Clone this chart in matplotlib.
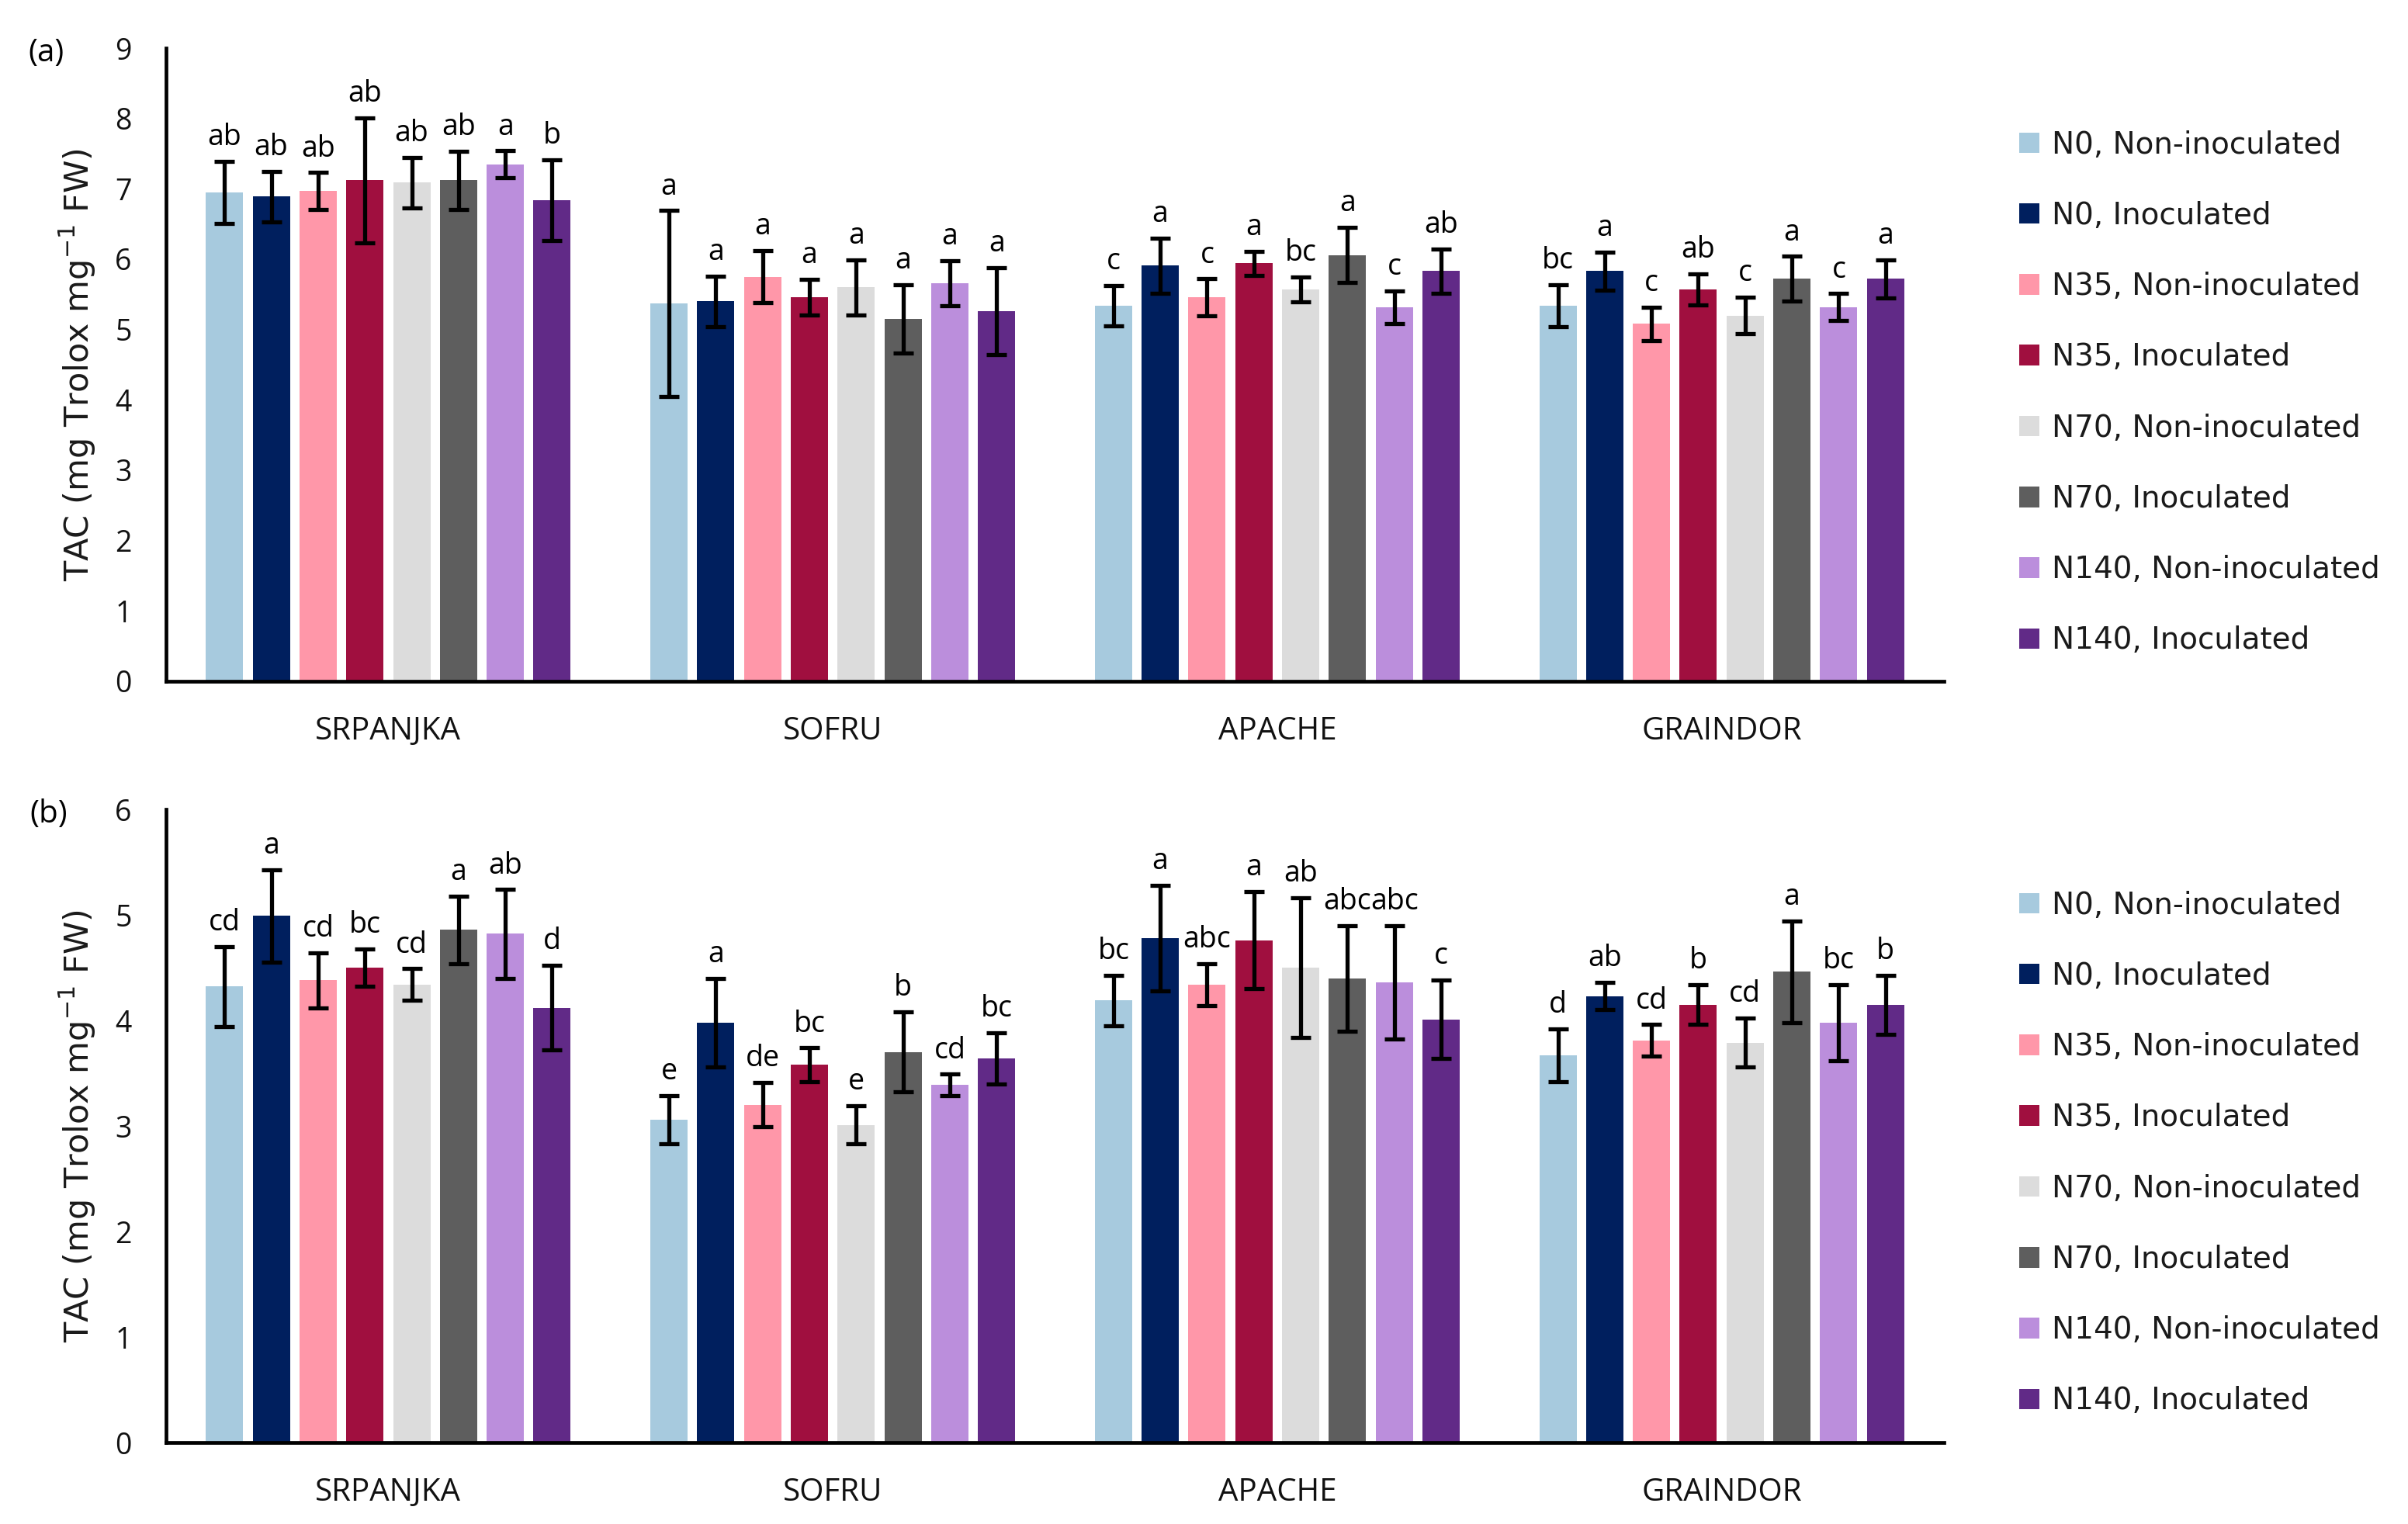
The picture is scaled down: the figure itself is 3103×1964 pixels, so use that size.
#!/usr/bin/env python3
"""Grouped bar chart of TAC by cultivar and N / inoculation treatment."""

import matplotlib

matplotlib.use("Agg")
import matplotlib.pyplot as plt
from matplotlib.patches import Patch
import numpy as np


CULTIVARS = ["SRPANJKA", "SOFRU", "APACHE", "GRAINDOR"]
TREATMENTS = [
    "N0, Non-inoculated",
    "N0, Inoculated",
    "N35, Non-inoculated",
    "N35, Inoculated",
    "N70, Non-inoculated",
    "N70, Inoculated",
    "N140, Non-inoculated",
    "N140, Inoculated",
]
COLORS = [
    "#A7CADE",
    "#001F5E",
    "#FF97A9",
    "#A00F3F",
    "#DCDCDC",
    "#5E5E5E",
    "#BB8EDC",
    "#612A87",
]

# panel (a): one row per cultivar, one value per treatment
TAC_A = [
    [6.95, 6.89, 6.97, 7.12, 7.09, 7.12, 7.35, 6.84],
    [5.37, 5.40, 5.75, 5.46, 5.60, 5.15, 5.66, 5.26],
    [5.34, 5.91, 5.46, 5.94, 5.57, 6.06, 5.32, 5.83],
    [5.34, 5.83, 5.08, 5.57, 5.20, 5.72, 5.32, 5.72],
]
ERR_A = [
    [0.44, 0.36, 0.26, 0.89, 0.36, 0.41, 0.19, 0.57],
    [1.32, 0.36, 0.37, 0.25, 0.39, 0.49, 0.32, 0.62],
    [0.29, 0.39, 0.26, 0.17, 0.18, 0.39, 0.23, 0.31],
    [0.30, 0.27, 0.24, 0.22, 0.26, 0.32, 0.19, 0.27],
]
LETTERS_A = [
    ["ab", "ab", "ab", "ab", "ab", "ab", "a", "b"],
    ["a", "a", "a", "a", "a", "a", "a", "a"],
    ["c", "a", "c", "a", "bc", "a", "c", "ab"],
    ["bc", "a", "c", "ab", "c", "a", "c", "a"],
]

# panel (b)
TAC_B = [
    [4.32, 4.99, 4.38, 4.50, 4.34, 4.86, 4.82, 4.12],
    [3.06, 3.98, 3.20, 3.58, 3.01, 3.70, 3.39, 3.64],
    [4.19, 4.78, 4.34, 4.76, 4.50, 4.40, 4.36, 4.01],
    [3.67, 4.23, 3.81, 4.15, 3.79, 4.46, 3.98, 4.15],
]
ERR_B = [
    [0.38, 0.44, 0.26, 0.18, 0.15, 0.32, 0.42, 0.40],
    [0.23, 0.42, 0.21, 0.16, 0.18, 0.38, 0.10, 0.24],
    [0.24, 0.50, 0.20, 0.46, 0.66, 0.50, 0.54, 0.37],
    [0.25, 0.13, 0.15, 0.19, 0.23, 0.48, 0.36, 0.28],
]
LETTERS_B = [
    ["cd", "a", "cd", "bc", "cd", "a", "ab", "d"],
    ["e", "a", "de", "bc", "e", "b", "cd", "bc"],
    ["bc", "a", "abc", "a", "ab", "abc", "abc", "c"],
    ["d", "ab", "cd", "b", "cd", "a", "bc", "b"],
]

W, H = 3103, 1964
SHORT_FONT = ["Open Sans", "DejaVu Sans"]
LONG_FONT = ["DejaVu Sans"]
YLABEL = r"TAC (mg Trolox mg$^{-1}$ FW)"


def draw_panel(ax, means, errs, letters, ymax):
    means = np.asarray(means)
    errs = np.asarray(errs)
    x = np.arange(len(CULTIVARS))
    slot = 0.1053
    width = 0.0838
    for i, color in enumerate(COLORS):
        xs = x + (i - 3.5) * slot
        ax.bar(xs, means[:, i], width=width, color=color, zorder=2)
        ax.errorbar(
            xs, means[:, i], yerr=errs[:, i], fmt="none", ecolor="black",
            elinewidth=3.8, capsize=9.2, capthick=3.8, zorder=3,
        )
        for xv, top, label in zip(xs, means[:, i] + errs[:, i], [row[i] for row in letters]):
            ax.annotate(
                label, (xv, top), xytext=(0, 15), textcoords="offset points",
                ha="center", va="baseline", fontsize=27, family=SHORT_FONT,
                color="black",
            )

    ax.set_xlim(-0.5, len(CULTIVARS) - 0.5)
    ax.set_ylim(0, ymax)
    ax.set_yticks(np.arange(0, ymax + 1, 1))
    ax.set_xticks(x)
    ax.set_xticklabels(CULTIVARS)
    for spine in ("top", "right"):
        ax.spines[spine].set_visible(False)
    for spine in ("left", "bottom"):
        ax.spines[spine].set_linewidth(3.4)
        ax.spines[spine].set_color("black")
    ax.tick_params(axis="y", length=0, pad=32, labelsize=27)
    ax.tick_params(axis="x", length=0, pad=32, labelsize=29)
    for lab in ax.get_yticklabels() + ax.get_xticklabels():
        lab.set_family(SHORT_FONT)
        lab.set_color("#111111")


def main():
    fig = plt.figure(figsize=(W / 100, H / 100), dpi=100)

    ax_a = fig.add_axes([214 / W, 1 - 878 / H, (2505 - 214) / W, (878 - 62) / H])
    ax_b = fig.add_axes([214 / W, 1 - 1859 / H, (2505 - 214) / W, (1859 - 1043) / H])

    draw_panel(ax_a, TAC_A, ERR_A, LETTERS_A, 9)
    draw_panel(ax_b, TAC_B, ERR_B, LETTERS_B, 6)

    handles = [Patch(facecolor=c, edgecolor="none") for c in COLORS]
    for ycenter in (506, 1486):
        fig.legend(
            handles, TREATMENTS, loc="center left",
            bbox_to_anchor=(2602 / W, 1 - ycenter / H), frameon=False,
            prop={"family": LONG_FONT, "size": 28}, labelcolor="#1a1a1a",
            handlelength=0.67, handleheight=0.67, handletextpad=0.41,
            labelspacing=1.37, borderpad=0, borderaxespad=0,
        )

    for ycenter in (470, 1451):
        fig.text(100 / W, 1 - ycenter / H, YLABEL, rotation=90, ha="center",
                 va="center", fontsize=31, family=LONG_FONT, color="#1a1a1a")

    fig.text(36 / W, 1 - 69 / H, "(a)", ha="left", va="center", fontsize=29,
             family=SHORT_FONT)
    fig.text(38 / W, 1 - 1050 / H, "(b)", ha="left", va="center", fontsize=29,
             family=SHORT_FONT)

    fig.savefig("out.png", dpi=100, facecolor="white")
    plt.close(fig)


if __name__ == "__main__":
    main()
